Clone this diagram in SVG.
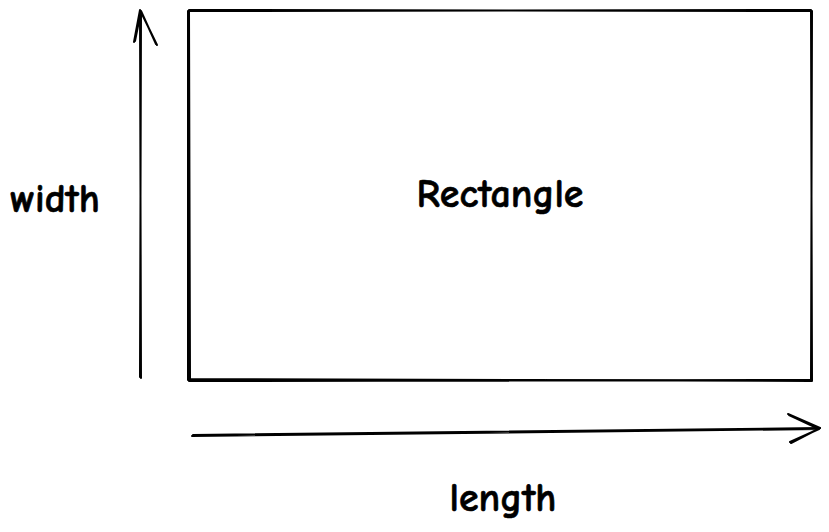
<svg xmlns="http://www.w3.org/2000/svg" width="829" height="532" viewBox="0 0 829 532">
  <style>
    .s { fill: none; stroke: #000; stroke-width: 2; stroke-linecap: round; stroke-linejoin: round; }
    .t { font-family: "Comic Neue", "Noto Sans", "DejaVu Sans", sans-serif; font-size: 40px; font-weight: bold; fill: #000; stroke: #000; stroke-width: 0.6; }
  </style>
  <rect width="829" height="532" fill="#fff"/>
  <g id="rectangle">
    <path class="s" d="M188 11 L811 10 M189 10 L812 11 M811 10 L812 381 M812 11 L811 380 M812 380 L189 381 M811 381 L188 379 M188 380 L188 11 M190 379 L189 12"/>
    <text class="t" x="500" y="207" text-anchor="middle">Rectangle</text>
  </g>
  <g id="width-label">
    <text class="t" x="55" y="212" text-anchor="middle">width</text>
  </g>
  <g id="length-label">
    <text class="t" x="503" y="511" text-anchor="middle">length</text>
  </g>
  <g id="connectors">
    <path class="s" d="M140 377 L141 12 M141 378 L140 11"/>
    <path class="s" d="M134 42 L140 10 L157 45 M135 41 L141 11 L156 44"/>
    <path class="s" d="M193 435 L820 428 M192 436 L819 429"/>
    <path class="s" d="M788 414 L820 428 L791 443 M789 415 L819 429 L790 442"/>
  </g>
</svg>
